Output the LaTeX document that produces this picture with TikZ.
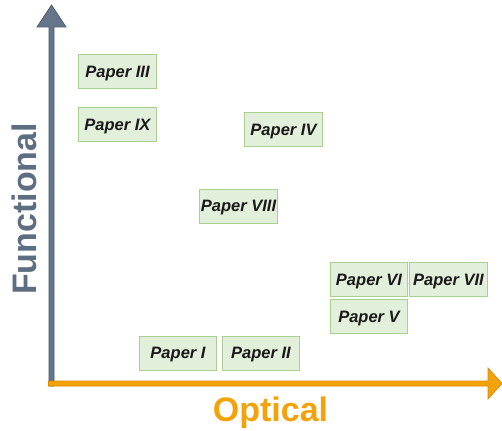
\documentclass[tikz,border=0pt]{standalone}
\usepackage{fontspec}
\setmainfont{Liberation Sans}
\definecolor{slatefill}{HTML}{66768A}
\definecolor{slateedge}{HTML}{4B5769}
\definecolor{slatetext}{HTML}{5E6E82}
\definecolor{orangefill}{HTML}{F4A20A}
\definecolor{orangeedge}{HTML}{D98A00}
\definecolor{boxfill}{HTML}{E2EFDA}
\definecolor{boxedge}{HTML}{A9D08E}
\begin{document}
\begin{tikzpicture}[x=1pt,y=-1pt,
  paper/.style={draw=boxedge, fill=boxfill, line width=1pt, minimum width=77.5pt,
    minimum height=34pt, inner sep=0pt, text height=12pt, text depth=1pt,
    font=\fontsize{16.5}{18}\selectfont\bfseries\itshape, text=black!90},
  axislabel/.style={font=\fontsize{34}{36}\selectfont\bfseries, inner sep=0pt, anchor=base}]
\useasboundingbox (0,0) rectangle (502,430);
% vertical axis (functional)
\draw[slateedge, fill=slatefill, line width=0.7pt, line join=miter]
  (49,386) -- (49,27) -- (37,27) -- (51.5,5) -- (66,27) -- (54,27) -- (54,386) -- cycle;
% horizontal axis (optical)
\draw[orangeedge, fill=orangefill, line width=0.7pt, line join=miter]
  (48.5,381) -- (488,381) -- (488,368) -- (502,383.5) -- (488,399) -- (488,386) -- (48.5,386) -- cycle;
% axis labels
\node[axislabel, text=orangefill] (xlab) at (270.5,421) {Optical};
\node[axislabel, text=slatetext, rotate=90] (ylab) at (36,209) {Functional};
% papers
\node[paper] (p3) at (117.5,72) {Paper III};
\node[paper] (p9) at (117.5,125) {Paper IX};
\node[paper] (p4) at (283.5,130) {Paper IV};
\node[paper] (p8) at (238.5,206) {Paper VIII};
\node[paper] (p6) at (369,279.5) {Paper VI};
\node[paper] (p7) at (448.5,279.5) {Paper VII};
\node[paper] (p5) at (369,316.5) {Paper V};
\node[paper] (p1) at (178,353) {Paper I};
\node[paper] (p2) at (261,353) {Paper II};
\end{tikzpicture}
\end{document}
